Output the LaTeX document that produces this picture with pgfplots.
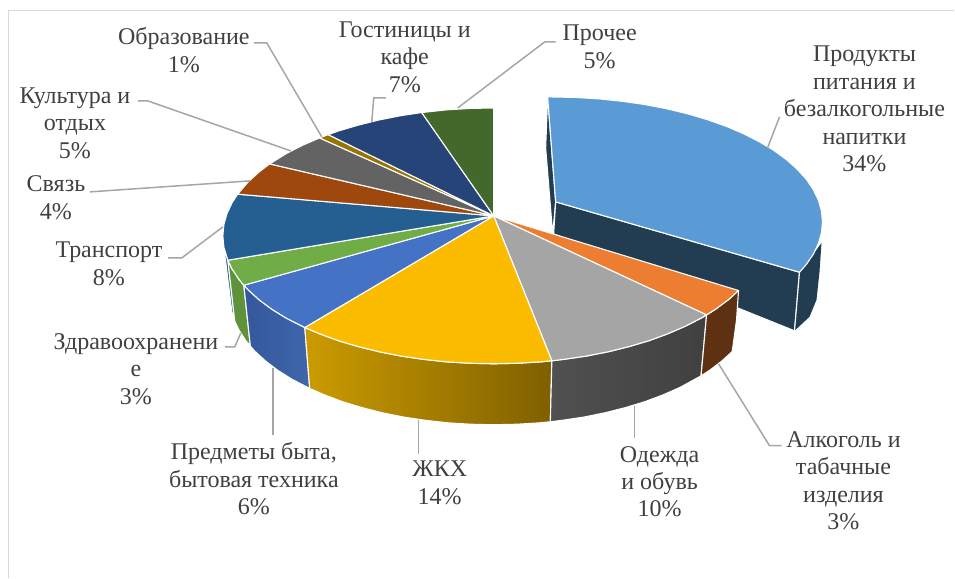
\documentclass[border=0pt]{standalone}
\usepackage{fontspec}
\setmainfont{Liberation Serif}
\usepackage{xcolor}
\usepackage{pgfplots}
\pgfplotsset{compat=1.18}

\definecolor{lab}{HTML}{404040}
\definecolor{leader}{HTML}{A6A6A6}
\definecolor{frame}{HTML}{D9D9D9}
\definecolor{food}{HTML}{5B9BD5}
\definecolor{foodside}{HTML}{223C52}
\definecolor{alco}{HTML}{ED7D31}
\definecolor{alcoside}{HTML}{5F3113}
\definecolor{cloth}{HTML}{A5A5A5}
\definecolor{clothL}{HTML}{505050}
\definecolor{clothR}{HTML}{404040}
\definecolor{house}{HTML}{FBBC00}
\definecolor{houseL}{HTML}{CB9B00}
\definecolor{houseR}{HTML}{7F6000}
\definecolor{goods}{HTML}{4472C4}
\definecolor{goodsL}{HTML}{34589A}
\definecolor{goodsR}{HTML}{3F66AC}
\definecolor{health}{HTML}{70AD47}
\definecolor{healthside}{HTML}{5F933B}
\definecolor{transp}{HTML}{255E91}
\definecolor{comm}{HTML}{9E480E}
\definecolor{cult}{HTML}{636363}
\definecolor{edu}{HTML}{997300}
\definecolor{hotel}{HTML}{264478}
\definecolor{other}{HTML}{43682B}

\pgfplotsset{
  top/.style={draw=white, line width=1.1pt, line join=round, fill=#1},
  side/.style={draw=white, line width=1.1pt, line join=round, fill=#1},
  lead/.style={draw=leader, line width=1.5pt},
}
\newcommand{\lab}[3]{\node[text=lab, align=center, inner sep=0pt,
  font=\fontsize{24}{27.5}\selectfont] at (axis cs:#1,#2) {#3};}

\begin{document}
\begin{tikzpicture}
\begin{axis}[
  width=955pt, height=578pt, scale only axis,
  xmin=0, xmax=955, ymin=0, ymax=578, y dir=reverse,
  hide axis, clip=false,
]
% keep the whole canvas in the bounding box
\path (axis cs:0,0) rectangle (axis cs:955,578);
% frame, top and left only
\addplot[draw=frame, line width=1.2pt] coordinates {(955,10.5) (8.7,10.5) (8.7,578)};

% exploded slice: sides
\addplot[side=foodside] coordinates {(548,97) (546,148) (553,234) (556,202)} -- cycle;
\addplot[side=foodside] coordinates {(556,202) (800,272.4) (795,331) (554,234)} -- cycle;
\addplot[draw=none, fill=foodside] coordinates {(800,272.4) (806.7,264.8) (813.8,254.4) (822,243) (820,272) (817,300) (810,317) (795,331)} -- cycle;
\addplot[draw=white, line width=1.1pt] coordinates {(800,272.4) (795,331)};
% exploded slice: top
\addplot[top=food] coordinates {(556,202) (800,272.4) (806.7,264.8) (813.8,254.4) (818.9,243.7) (822,232.9) (823,222) (822,211.1) (818.9,200.3) (813.8,189.6) (806.7,179.2) (797.6,169.2) (786.7,159.5) (774,150.3) (759.6,141.7) (743.6,133.6) (726.2,126.2) (707.4,119.6) (687.5,113.7) (666.5,108.7) (644.7,104.5) (622.1,101.3) (599,98.9) (575.6,97.5) (552,97) (548,97)} -- cycle;

% main pie: sides
\addplot[side=transp] coordinates {(224,247) (228,260.4) (234.9,321.4) (232,312)} -- cycle;
\addplot[side=healthside] coordinates {(228,260.4) (232.2,269.1) (239.3,279.8) (244,285.4) (250.5,346.4) (245.9,340.8) (239,330.1) (234.9,321.4)} -- cycle;
\addplot[draw=white, line width=1.1pt, left color=goodsL, right color=goodsR] coordinates {(244,285.4) (248.4,290.1) (259.3,300) (272,309.4) (286.4,318.3) (305,327.7) (309.9,388.7) (291.8,379.3) (277.7,370.4) (265.4,361) (254.7,351.1) (250.5,346.4)} -- cycle;
\addplot[draw=white, line width=1.1pt, left color=houseL, right color=houseR] coordinates {(305,327.7) (319.8,334) (338.6,340.9) (358.5,346.8) (379.5,352) (401.3,356.3) (423.9,359.6) (447,362.1) (470.4,363.5) (494,364) (517.6,363.5) (541,362.1) (552.2,361) (550.7,422) (539.8,423.1) (517,424.5) (494,425) (471,424.5) (448.2,423.1) (425.7,420.6) (403.7,417.3) (382.4,413) (362,407.8) (342.6,401.9) (324.3,395) (309.9,388.7)} -- cycle;
\addplot[draw=white, line width=1.1pt, left color=clothL, right color=clothR] coordinates {(552.2,361) (564.1,359.6) (586.7,356.3) (608.5,352) (629.5,346.8) (649.4,340.9) (668.2,334) (685.6,326.5) (701.6,318.3) (707,315.1) (701.5,376.1) (680.7,387.5) (663.7,395) (645.4,401.9) (626,407.8) (605.6,413) (584.3,417.3) (562.3,420.6) (550.7,422)} -- cycle;
\addplot[side=alcoside] coordinates {(707,315.1) (716,309.4) (728.7,300) (739,290.7) (737,320) (732.7,351.7) (722.6,361) (710.3,370.4) (701.5,376.1)} -- cycle;

% main pie: top, clockwise from the slice next to the exploded one
\addplot[top=alco] coordinates {(494,216) (739,290.7) (728.7,300) (716,309.4) (707,315.1)} -- cycle;
\addplot[top=cloth] coordinates {(494,216) (707,315.1) (701.6,318.3) (685.6,326.5) (668.2,334) (649.4,340.9) (629.5,346.8) (608.5,352) (586.7,356.3) (564.1,359.6) (552.2,361)} -- cycle;
\addplot[top=house] coordinates {(494,216) (552.2,361) (541,362.1) (517.6,363.5) (494,364) (470.4,363.5) (447,362.1) (423.9,359.6) (401.3,356.3) (379.5,352) (358.5,346.8) (338.6,340.9) (319.8,334) (305,327.7)} -- cycle;
\addplot[top=goods] coordinates {(494,216) (305,327.7) (286.4,318.3) (272,309.4) (259.3,300) (248.4,290.1) (244,285.4)} -- cycle;
\addplot[top=health] coordinates {(494,216) (244,285.4) (239.3,279.8) (232.2,269.1) (228,260.4)} -- cycle;
\addplot[top=transp] coordinates {(494,216) (228,260.4) (224,247.2) (223,236) (224,224.8) (227.1,213.8) (232.2,202.9) (237.8,194.3)} -- cycle;
\addplot[top=comm] coordinates {(494,216) (237.8,194.3) (248.4,181.9) (259.3,172) (269.8,164)} -- cycle;
\addplot[top=cult] coordinates {(494,216) (269.8,164) (286.4,153.7) (302.4,145.5) (319.8,138)} -- cycle;
\addplot[top=edu] coordinates {(494,216) (319.8,138) (328.4,134.7)} -- cycle;
\addplot[top=hotel] coordinates {(494,216) (328.4,134.7) (338.6,131.1) (358.5,125.2) (379.5,120) (401.3,115.7) (422,112.6)} -- cycle;
\addplot[top=other] coordinates {(494,216) (422,112.6) (447,109.9) (470.4,108.5) (494,108)} -- cycle;

% leader lines
\addplot[lead] coordinates {(556,42) (545,42) (458,108)};
\addplot[lead] coordinates {(386,98) (374,98) (372,122)};
\addplot[lead] coordinates {(254,43) (267,43) (322,137)};
\addplot[lead] coordinates {(138,101) (148,101) (291,151)};
\addplot[lead] coordinates {(90,192) (250,181)};
\addplot[lead] coordinates {(168,258) (182,258) (223,227)};
\addplot[lead] coordinates {(225,347) (235,347) (241,333)};
\addplot[lead] coordinates {(273,368) (273,435)};
\addplot[lead] coordinates {(419,420) (419,454)};
\addplot[lead] coordinates {(635,406) (635,438)};
\addplot[lead] coordinates {(719,364) (770,446) (782,446)};
\addplot[lead] coordinates {(768,148) (780,117)};

% labels
\lab{865}{109}{Продукты\\питания и\\безалкогольные\\напитки\\34\%}
\lab{600}{47}{Прочее\\5\%}
\lab{405}{57}{Гостиницы и\\кафе\\7\%}
\lab{184}{50}{Образование\\1\%}
\lab{75}{123}{Культура и\\отдых\\5\%}
\lab{56}{198}{Связь\\4\%}
\lab{109}{264}{Транспорт\\8\%}
\lab{136}{369}{Здравоохранени\\е\\3\%}
\lab{254}{479}{Предметы быта,\\бытовая техника\\6\%}
\lab{440}{483}{ЖКХ\\14\%}
\lab{660}{482}{Одежда\\и обувь\\10\%}
\lab{844}{481}{Алкоголь и\\табачные\\изделия\\3\%}
\end{axis}
\end{tikzpicture}
\end{document}
